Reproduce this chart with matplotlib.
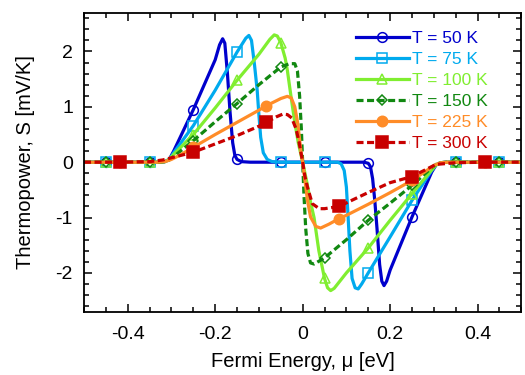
import numpy as np
import matplotlib
matplotlib.use("Agg")
import matplotlib.pyplot as plt
from matplotlib.ticker import MultipleLocator

plt.rcParams['font.family'] = ['Liberation Sans', 'DejaVu Sans']

labels = ["T = 50 K", "T = 75 K", "T = 100 K", "T = 150 K", "T = 225 K", "T = 300 K"]
colors = ["#0000cc", "#00aaee", "#80ee30", "#118811", "#ff8c28", "#c80000"]

# Fermi energy [eV] and thermopower [mV/K]
mu_50 = [-0.5, -0.45, -0.35, -0.33, -0.315, -0.305, -0.295, -0.25, -0.2, -0.19, -0.183, -0.178,
         -0.172, -0.166, -0.16, -0.155, -0.15, -0.14, -0.12, -0.05, 0.05, 0.14, 0.15, 0.155, 0.16,
         0.165, 0.17, 0.176, 0.181, 0.186, 0.192, 0.2, 0.25, 0.295, 0.305, 0.315, 0.33, 0.35, 0.45, 0.5]
s_50 = [0, 0, 0, 0, 0.01, 0.05, 0.2, 0.95, 1.85, 2.12, 2.23, 2.15,
        1.6, 0.9, 0.35, 0.12, 0.05, 0.01, 0, 0, 0, 0, -0.02, -0.08, -0.3,
        -0.7, -1.2, -1.85, -2.15, -2.23, -2.15, -1.95, -0.99, -0.18, -0.05, -0.01, 0, 0, 0, 0]

mu_75 = [-0.5, -0.45, -0.35, -0.33, -0.315, -0.305, -0.295, -0.25, -0.2, -0.15, -0.13, -0.123,
         -0.117, -0.11, -0.104, -0.1, -0.096, -0.09, -0.081, -0.07, -0.05, 0.05, 0.08, 0.088, 0.095,
         0.1, 0.104, 0.108, 0.113, 0.12, 0.127, 0.135, 0.15, 0.2, 0.25, 0.295, 0.305, 0.315, 0.33,
         0.35, 0.45, 0.5]
s_75 = [0, 0, 0, 0, 0.01, 0.05, 0.17, 0.66, 1.3, 1.99, 2.24, 2.29,
        2.2, 1.75, 1.3, 0.85, 0.45, 0.17, 0.05, 0.01, 0, 0, 0, -0.03, -0.15,
        -0.45, -1.0, -1.6, -2.1, -2.27, -2.29, -2.2, -2.0, -1.35, -0.69, -0.15, -0.05, -0.01, 0,
        0, 0, 0]

mu_100 = [-0.5, -0.45, -0.35, -0.33, -0.315, -0.305, -0.295, -0.25, -0.2, -0.15, -0.1, -0.075,
          -0.065, -0.058, -0.05, -0.04, -0.035, -0.026, -0.018, -0.01, 0, 0.01, 0.018, 0.026, 0.037,
          0.05, 0.057, 0.064, 0.072, 0.1, 0.15, 0.2, 0.25, 0.295, 0.305, 0.315, 0.33, 0.35, 0.45, 0.5]
s_100 = [0, 0, 0, 0, 0.01, 0.05, 0.14, 0.5, 0.98, 1.48, 1.95, 2.22,
         2.3, 2.28, 2.16, 1.88, 1.66, 1.15, 0.72, 0.35, 0, -0.38, -0.72, -1.0, -1.6,
         -2.1, -2.27, -2.32, -2.28, -2.0, -1.55, -1.05, -0.57, -0.14, -0.05, -0.01, 0, 0, 0, 0]

mu_150 = [-0.5, -0.45, -0.35, -0.33, -0.315, -0.305, -0.295, -0.25, -0.2, -0.15, -0.1, -0.05,
          -0.03, -0.018, -0.012, -0.007, -0.003, 0, 0.003, 0.007, 0.012, 0.018, 0.026, 0.05, 0.1,
          0.15, 0.2, 0.25, 0.295, 0.305, 0.315, 0.33, 0.35, 0.45, 0.5]
s_150 = [0, 0, 0, 0, 0.01, 0.04, 0.1, 0.39, 0.73, 1.06, 1.4, 1.72,
         1.78, 1.78, 1.65, 1.2, 0.6, 0, -0.6, -1.2, -1.65, -1.82, -1.84, -1.73, -1.4,
         -1.05, -0.74, -0.42, -0.1, -0.04, -0.01, 0, 0, 0, 0]

mu_225 = [-0.5, -0.417, -0.35, -0.33, -0.315, -0.3, -0.28, -0.25, -0.2, -0.15, -0.1, -0.083,
          -0.05, -0.035, -0.026, -0.018, -0.011, -0.004, 0, 0.004, 0.011, 0.018, 0.03, 0.041, 0.06,
          0.083, 0.1, 0.15, 0.2, 0.25, 0.28, 0.3, 0.315, 0.33, 0.35, 0.417, 0.5]
s_225 = [0, 0, 0, 0, 0.01, 0.05, 0.13, 0.27, 0.5, 0.72, 0.94, 1.02,
         1.15, 1.19, 1.16, 1.0, 0.69, 0.2, 0, -0.25, -0.69, -0.99, -1.16, -1.19, -1.12,
         -1.02, -0.96, -0.76, -0.55, -0.33, -0.17, -0.06, -0.01, 0, 0, 0, 0]

mu_300 = [-0.5, -0.417, -0.35, -0.32, -0.3, -0.25, -0.2, -0.15, -0.1, -0.083, -0.06, -0.045,
          -0.035, -0.025, -0.015, -0.008, 0, 0.005, 0.011, 0.022, 0.038, 0.05, 0.083, 0.12, 0.152,
          0.2, 0.25, 0.285, 0.305, 0.35, 0.417, 0.5]
s_300 = [0, 0, 0.01, 0.04, 0.08, 0.18, 0.33, 0.48, 0.65, 0.72, 0.82, 0.87,
         0.86, 0.8, 0.6, 0.35, 0, -0.25, -0.45, -0.75, -0.84, -0.84, -0.8, -0.66, -0.54,
         -0.37, -0.26, -0.12, -0.04, -0.01, 0, 0]

# energies where the symbols sit
marks_a = [-0.45, -0.35, -0.25, -0.15, -0.05, 0.05, 0.15, 0.25, 0.35, 0.45]
marks_b = [-0.417, -0.25, -0.083, 0.083, 0.25, 0.417]

curves = [(mu_50, s_50, marks_a), (mu_75, s_75, marks_a), (mu_100, s_100, marks_a),
          (mu_150, s_150, marks_a), (mu_225, s_225, marks_b), (mu_300, s_300, marks_b)]
markers = ["o", "s", "^", "D", "o", "s"]
msizes = [7, 7, 7, 5.5, 7.5, 8]
filled = [False, False, False, False, True, True]
dashed = [False, False, False, True, False, True]

fig = plt.figure(figsize=(5.25, 3.75), dpi=100)
ax = fig.add_axes([0.16, 0.169, 0.833, 0.797])

for i, (mu, s, marks) in enumerate(curves):
    every = [j for j, m in enumerate(mu) if round(m, 3) in marks]
    ls = (0, (2.2, 1.1)) if dashed[i] else "-"
    ax.plot(mu, s, color=colors[i], lw=2.3, ls=ls, marker=markers[i], markevery=every,
            ms=msizes[i], mfc=colors[i] if filled[i] else "none", mec=colors[i], mew=1.1,
            label=labels[i])

ax.set_xlim(-0.5, 0.5)
ax.set_ylim(-2.7, 2.7)
ax.xaxis.set_minor_locator(MultipleLocator(0.05))
ax.yaxis.set_minor_locator(MultipleLocator(0.2))
ax.set_xticks([-0.4, -0.2, 0, 0.2, 0.4])
ax.set_xticklabels(["-0.4", "-0.2", "0", "0.2", "0.4"])
ax.set_yticks([-2, -1, 0, 1, 2])
ax.set_yticklabels(["-2", "-1", "0", "1", "2"])
ax.tick_params(which="both", direction="in", top=True, right=True, width=1.1, labelsize=14)
ax.tick_params(which="major", length=6)
ax.tick_params(which="minor", length=3.5)
ax.tick_params(axis="x", which="major", pad=10.5)
ax.tick_params(axis="y", which="major", pad=8)
for sp in ax.spines.values():
    sp.set_linewidth(1.3)
ax.set_xlabel("Fermi Energy, \u03bc [eV]", fontsize=14.5, labelpad=6)
ax.set_ylabel("Thermopower, S [mV/K]", fontsize=14.5, labelpad=15)

leg = ax.legend(loc="upper left", bbox_to_anchor=(0.622, 0.938), frameon=False, fontsize=12.5,
                handlelength=3.05, handletextpad=0.2, labelspacing=0.33, borderpad=0,
                borderaxespad=0)
for txt, c in zip(leg.get_texts(), colors):
    txt.set_color(c)

fig.savefig("out.png", dpi=100)
